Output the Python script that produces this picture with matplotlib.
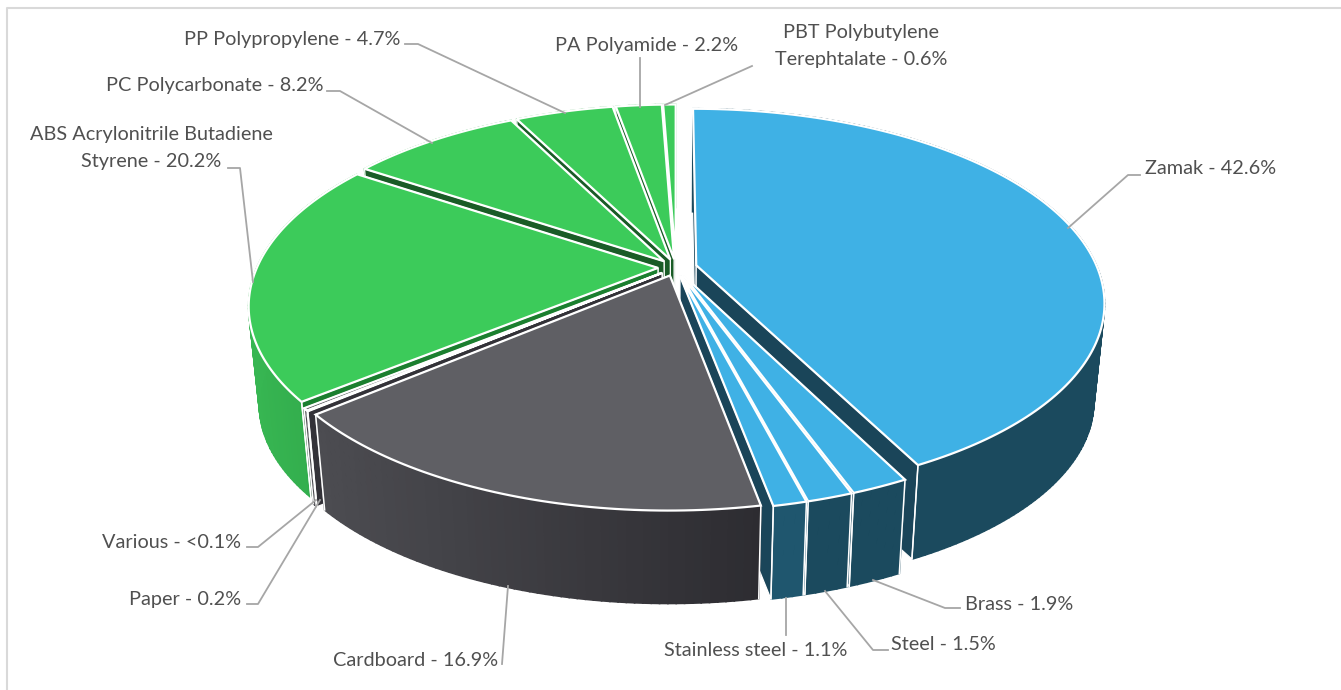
import numpy as np
import matplotlib
matplotlib.use("Agg")
import matplotlib.pyplot as plt
from matplotlib.colors import to_rgb

# values, clockwise from the top
materials = ["Zamak", "Brass", "Steel", "Stainless steel", "Cardboard", "Various", "Paper",
             "ABS", "PC", "PP", "PA", "PBT"]
shares = [42.6, 1.9, 1.5, 1.1, 16.9, 0.05, 0.2, 20.2, 8.2, 4.7, 2.2, 0.6]
label_texts = ["Zamak - 42.6%", "Brass - 1.9%", "Steel - 1.5%", "Stainless steel - 1.1%",
               "Cardboard - 16.9%", "Various - <0.1%", "Paper - 0.2%",
               "ABS Acrylonitrile Butadiene\nStyrene - 20.2%", "PC Polycarbonate - 8.2%",
               "PP Polypropylene - 4.7%", "PA Polyamide - 2.2%",
               "PBT Polybutylene\nTerephtalate - 0.6%"]

# styles
blue = dict(top="#3FB1E5", rad="#1A4559", arc0="#1B4A5E", arc1="#1B4A5E")
green = dict(top="#3CCB5A", rad="#1A5C27", arc0="#2FA548", arc1="#37B652")
grey = dict(top="#5F5F64", rad="#333238", arc0="#2D2C31", arc1="#4C4C51")
styles = {"Zamak": blue, "Brass": blue, "Steel": blue,
          "Stainless steel": dict(blue, arc0="#1F566E", arc1="#1F566E"),
          "Cardboard": grey, "Various": grey, "Paper": grey,
          "ABS": dict(green, rad="#1B7F2F"), "PC": green, "PP": green, "PA": green, "PBT": green}
draw_order = ["PBT", "PA", "PP", "PC", "ABS", "Paper", "Various",
              "Zamak", "Brass", "Steel", "Stainless steel", "Cardboard"]

# label placement: text x, y, ha
label_pos = {"Zamak": (1145, 168, "left"), "Brass": (965, 604, "left"), "Steel": (891, 644, "left"),
             "Stainless steel": (664, 650, "left"), "Cardboard": (498, 661, "right"),
             "Various": (241, 542, "right"), "Paper": (241, 599, "right"),
             "ABS": (151, 148, "center"), "PC": (324, 86, "right"), "PP": (400, 39, "right"),
             "PA": (555, 45, "left"), "PBT": (861, 46, "center")}
leaders = {"Zamak": [(1140, 175), (1128, 175), (1068, 228)],
           "Brass": [(960, 608), (945, 608), (873, 580)],
           "Steel": [(888, 650), (873, 650), (825, 591)],
           "Stainless steel": [(786, 635), (786, 598)],
           "Cardboard": [(502, 664), (508, 586)],
           "Various": [(247, 547), (258, 547), (316, 500)],
           "Paper": [(247, 604), (258, 604), (320, 500)],
           "ABS": [(228, 168), (240, 168), (253, 282)],
           "PC": [(327, 91), (340, 91), (432, 143)],
           "PP": [(405, 44), (418, 44), (565, 113)],
           "PA": [(640, 58), (640, 107)],
           "PBT": [(752, 66), (665, 105)]}

# fake 3d projection
cx, cy = 676, 267.5
A, R, k = 401, 187, 0.19
explode = {"Zamak": 0.052}
explode_default = 0.045
q, depth = 0.975, 99


def project(theta, r, mid, e):
    u = r * np.sin(theta) + e * np.sin(mid)
    v = -r * np.cos(theta) - e * np.cos(mid)
    s = 1 / (1 - k * v)
    return cx + A * u * s, cy + R * v * s


def lower(x, y):
    return cx + (x - cx) * q, cy + (y - cy) * q + depth


def cut_visible(phi, mid):
    # the cut shows when going down from its top edge leaves the slice
    nu, nv = np.cos(phi), np.sin(phi)
    if nu * np.sin(mid) - nv * np.cos(mid) < 0:
        nv = -nv
    return nv < 0


fig = plt.figure(figsize=(13.41, 6.90), dpi=100)
ax = fig.add_axes([0, 0, 1, 1])
ax.set_xlim(0, 1341)
ax.set_ylim(690, 0)
ax.axis("off")

ax.plot([7, 7, 1341], [690, 8, 8], color="#D9D9D9", lw=1.5, zorder=0)

total = sum(shares)
edges = np.cumsum([0] + shares) / total * 2 * np.pi
spans = {m: (edges[i], edges[i + 1]) for i, m in enumerate(materials)}

z = 1
for name in draw_order:
    a0, a1 = spans[name]
    st = styles[name]
    e = explode.get(name, explode_default)
    mid = (a0 + a1) / 2
    n = max(4, int((a1 - a0) * 60))
    th = np.linspace(a0, a1, n)
    xs, ys = project(th, 1.0, mid, e)
    xb, yb = lower(xs, ys)
    ax0, ay0 = project(0.0, 0.0, mid, e)
    bx0, by0 = lower(ax0, ay0)

    for i in (0, -1):
        z_cut = z + 0.2 if cut_visible(th[i], mid) else z
        ax.fill([ax0, xs[i], xb[i], bx0], [ay0, ys[i], yb[i], by0], fc=st["rad"], ec="white",
                lw=0.9, zorder=z_cut)

    # outer wall, in strips for the shading
    c0, c1 = np.array(to_rgb(st["arc0"])), np.array(to_rgb(st["arc1"]))
    span_x = xs.max() - xs.min()
    for i in range(n - 1):
        t = (xs.max() - (xs[i] + xs[i + 1]) / 2) / span_x
        col = c0 + (c1 - c0) * t
        ax.fill([xs[i], xs[i + 1], xb[i + 1], xb[i]], [ys[i], ys[i + 1], yb[i + 1], yb[i]],
                fc=col, ec=col, lw=1.2, zorder=z + 0.1)
    for i in (0, -1):
        if np.cos(th[i]) < 0:
            ax.plot([xs[i], xb[i]], [ys[i], yb[i]], color="white", lw=1.1, zorder=z + 0.3)

    # top face
    ax.fill(np.r_[ax0, xs], np.r_[ay0, ys], fc=st["top"], ec="white", lw=1.6, joinstyle="miter",
            zorder=z + 0.5)
    z += 1

for name, text in zip(materials, label_texts):
    pts = leaders[name]
    ax.plot([p[0] for p in pts], [p[1] for p in pts], color="#A6A6A6", lw=1.3, zorder=50)
    x, y, ha = label_pos[name]
    ax.text(x, y, text, ha=ha, va="center", family="Lato", fontsize=14.3, color="#505050",
            linespacing=1.7, multialignment="center", zorder=60)

fig.savefig("out.png", dpi=100)
